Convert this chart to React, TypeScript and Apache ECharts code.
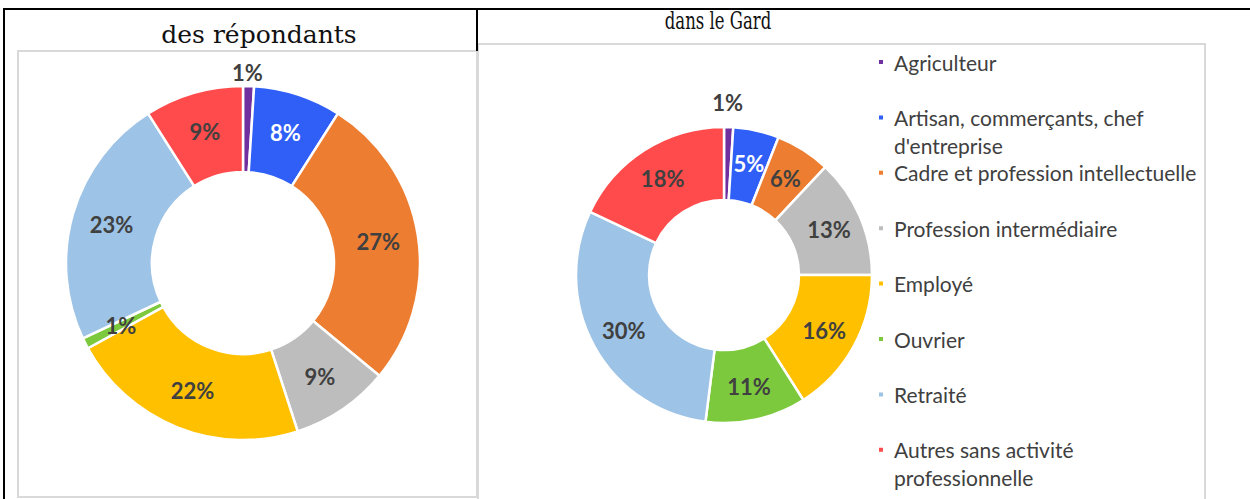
import React, { useEffect, useRef } from "react";
import * as echarts from "echarts";

const categories = [
  "Agriculteur",
  "Artisan, commerçants, chef d'entreprise",
  "Cadre et profession intellectuelle",
  "Profession intermédiaire",
  "Employé",
  "Ouvrier",
  "Retraité",
  "Autres sans activité professionnelle",
];
const legendLabels = [
  "Agriculteur",
  "Artisan, commerçants, chef\nd'entreprise",
  "Cadre et profession intellectuelle",
  "Profession intermédiaire",
  "Employé",
  "Ouvrier",
  "Retraité",
  "Autres sans activité\nprofessionnelle",
];
const repondantsValues = [1, 8, 27, 9, 22, 1, 23, 9];
const gardValues = [1, 5, 6, 13, 16, 11, 30, 18];
const titles = ["des répondants", "dans le Gard"];

const palette = ["#7030A0", "#2F5FF6", "#ED7D31", "#BDBDBD", "#FFC000", "#7DC93E", "#9DC3E6", "#FF4B4B"];
const labelColors = ["#404040", "#ffffff", "#404040", "#404040", "#404040", "#404040", "#404040", "#404040"];

const LABEL_FONT = "Lato";

function pieSeries(values: number[], center: number[], inner: number, outer: number, outsideR: number) {
  const mid = (inner + outer) / 2;
  const gap = 2 * (outsideR - mid);
  return {
    type: "pie",
    center,
    radius: [inner, outer],
    startAngle: 90,
    clockwise: true,
    avoidLabelOverlap: false,
    labelLayout: { hideOverlap: false },
    itemStyle: { borderColor: "#ffffff", borderWidth: 2.5 },
    label: {
      show: true,
      position: "inside",
      formatter: "{c}%",
      fontFamily: LABEL_FONT,
      fontSize: 22,
      fontWeight: "bold",
      color: "#404040",
    },
    labelLine: { show: false },
    emphasis: { disabled: true },
    data: values.map((v, i) => ({
      name: categories[i],
      value: v,
      label:
        i === 0
          ? {
              color: labelColors[i],
              formatter: "{c}%\n{g| }",
              rich: { g: { height: gap, lineHeight: gap, fontSize: 2 } },
            }
          : { color: labelColors[i] },
    })),
  };
}

export default function App() {
  const ref = useRef<HTMLDivElement>(null);
  useEffect(() => {
    if (!ref.current) return;
    const chart = echarts.init(ref.current, null, { renderer: "svg" });
    const legendStart = 62;
    const legendStep = 55.4;
    const lineH = 28;
    chart.setOption({
      animation: false,
      color: palette,
      graphic: [
        { type: "rect", z: 0, shape: { x: 18, y: 51, width: 459, height: 446 }, style: { fill: "#ffffff", stroke: "#d9d9d9", lineWidth: 2 } },
        { type: "rect", z: 0, shape: { x: 478, y: 44, width: 727, height: 470 }, style: { fill: "#ffffff", stroke: "#d9d9d9", lineWidth: 2 } },
        { type: "rect", z: 1, shape: { x: 3, y: 8, width: 1247, height: 2 }, style: { fill: "#000000" } },
        { type: "rect", z: 1, shape: { x: 3, y: 8, width: 2, height: 491 }, style: { fill: "#000000" } },
        { type: "rect", z: 1, shape: { x: 476, y: 8, width: 2, height: 43 }, style: { fill: "#000000" } },
        {
          type: "text", z: 1, x: 259, y: 34,
          style: { text: titles[0], fontSize: 25, fontFamily: "DejaVu Serif", fill: "#111111", align: "center", verticalAlign: "middle" },
        },
        {
          type: "text", z: 1, x: 718, y: 20, scaleX: 0.66,
          style: { text: titles[1], fontSize: 25, fontFamily: "DejaVu Serif", fill: "#111111", align: "center", verticalAlign: "middle" },
        },
      ],
      legend: categories.map((name, i) => {
        const twoLine = legendLabels[i].indexOf("\n") >= 0;
        const cy = legendStart + i * legendStep;
        return {
          orient: "vertical",
          left: 877,
          top: twoLine ? cy - 1.5 * lineH : cy - lineH / 2,
          padding: 0,
          itemWidth: 6,
          itemHeight: 6,
          itemGap: 0,
          icon: "rect",
          selectedMode: false,
          formatter: () =>
            twoLine
              ? "{g| }\n" + legendLabels[i].split("\n").map((s) => "{t|" + s + "}").join("\n")
              : "{t|" + legendLabels[i] + "}",
          textStyle: {
            fontFamily: LABEL_FONT,
            fontSize: 21,
            color: "#404040",
            lineHeight: lineH,
            rich: {
              t: { fontFamily: LABEL_FONT, fontSize: 21, color: "#404040", lineHeight: lineH, padding: [0, 0, 0, 5] },
              g: { fontSize: 2, lineHeight: lineH, height: lineH },
            },
          },
          data: [name],
        };
      }),
      series: [
        pieSeries(repondantsValues, [243, 263], 91, 177, 188),
        pieSeries(gardValues, [724, 275], 75, 148, 170),
      ],
    });
    return () => chart.dispose();
  }, []);
  return <div ref={ref} style={{ position: "absolute", left: 0, top: 0, width: 1250, height: 499 }} />;
}
